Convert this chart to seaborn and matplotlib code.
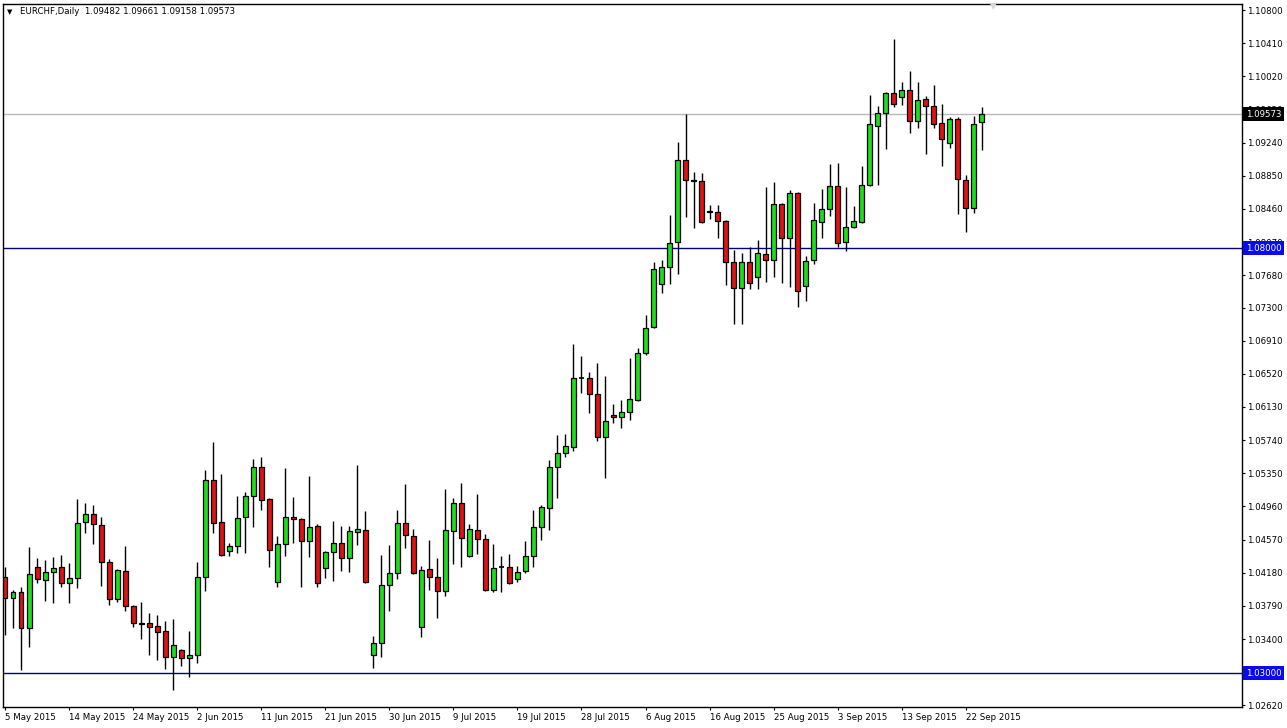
import matplotlib
matplotlib.use("Agg")
import matplotlib.pyplot as plt
import matplotlib.transforms as mtransforms
import numpy as np
import seaborn as sns

symbol = "EURCHF,Daily"

opens = [1.0413, 1.0388, 1.0395, 1.0353, 1.0425, 1.0409, 1.0419, 1.0425, 1.0406, 1.0412,
         1.0478, 1.0487, 1.0474, 1.0431, 1.0387, 1.0420, 1.0379, 1.0359, 1.0359, 1.0355,
         1.0349, 1.0319, 1.0327, 1.0318, 1.0321, 1.0413, 1.0527, 1.0478, 1.0444, 1.0449,
         1.0484, 1.0508, 1.0542, 1.0505, 1.0407, 1.0452, 1.0484, 1.0481, 1.0455, 1.0473,
         1.0424, 1.0442, 1.0453, 1.0435, 1.0466, 1.0468, 1.0321, 1.0335, 1.0404, 1.0418,
         1.0476, 1.0461, 1.0354, 1.0422, 1.0413, 1.0396, 1.0467, 1.0500, 1.0438, 1.0468,
         1.0458, 1.0398, 1.0425, 1.0425, 1.0411, 1.0420, 1.0438, 1.0472, 1.0494, 1.0542,
         1.0559, 1.0566, 1.0647, 1.0647, 1.0628, 1.0578, 1.0604, 1.0601, 1.0607, 1.0621,
         1.0676, 1.0707, 1.0758, 1.0778, 1.0807, 1.0904, 1.0880, 1.0879, 1.0844, 1.0842,
         1.0832, 1.0784, 1.0753, 1.0784, 1.0766, 1.0793, 1.0786, 1.0852, 1.0812, 1.0865,
         1.0755, 1.0786, 1.0831, 1.0846, 1.0873, 1.0807, 1.0825, 1.0831, 1.0874, 1.0944,
         1.0959, 1.0982, 1.0978, 1.0986, 1.0949, 1.0975, 1.0967, 1.0947, 1.0924, 1.0952,
         1.0880, 1.0847, 1.09482]
highs = [1.0425, 1.0398, 1.0401, 1.0448, 1.0435, 1.0433, 1.0436, 1.0439, 1.0429, 1.0505,
         1.0500, 1.0498, 1.0484, 1.0434, 1.0422, 1.0449, 1.0380, 1.0384, 1.0371, 1.0368,
         1.0361, 1.0364, 1.0328, 1.0349, 1.0431, 1.0539, 1.0572, 1.0534, 1.0453, 1.0508,
         1.0513, 1.0552, 1.0554, 1.0506, 1.0461, 1.0541, 1.0507, 1.0482, 1.0532, 1.0475,
         1.0444, 1.0479, 1.0473, 1.0473, 1.0545, 1.0491, 1.0344, 1.0439, 1.0451, 1.0492,
         1.0522, 1.0469, 1.0426, 1.0456, 1.0435, 1.0516, 1.0506, 1.0524, 1.0475, 1.0511,
         1.0464, 1.0452, 1.0438, 1.0440, 1.0426, 1.0455, 1.0492, 1.0498, 1.0551, 1.0580,
         1.0581, 1.0687, 1.0673, 1.0654, 1.0665, 1.0649, 1.0616, 1.0621, 1.0671, 1.0682,
         1.0721, 1.0784, 1.0786, 1.0839, 1.0925, 1.0958, 1.0889, 1.0888, 1.0851, 1.0851,
         1.0833, 1.0798, 1.0794, 1.0801, 1.0809, 1.0872, 1.0878, 1.0853, 1.0868, 1.0866,
         1.0791, 1.0853, 1.0869, 1.0899, 1.0900, 1.0872, 1.0849, 1.0896, 1.0980, 1.0967,
         1.0984, 1.1046, 1.0995, 1.1008, 1.0995, 1.0979, 1.0992, 1.0969, 1.0954, 1.0954,
         1.0886, 1.0955, 1.09661]
lows = [1.0345, 1.0353, 1.0304, 1.0331, 1.0406, 1.0385, 1.0382, 1.0401, 1.0382, 1.0400,
        1.0465, 1.0452, 1.0402, 1.0380, 1.0384, 1.0373, 1.0354, 1.0340, 1.0321, 1.0315,
        1.0305, 1.0280, 1.0308, 1.0295, 1.0312, 1.0396, 1.0465, 1.0438, 1.0438, 1.0441,
        1.0441, 1.0472, 1.0492, 1.0425, 1.0401, 1.0438, 1.0453, 1.0401, 1.0436, 1.0401,
        1.0412, 1.0408, 1.0420, 1.0419, 1.0451, 1.0406, 1.0306, 1.0319, 1.0373, 1.0411,
        1.0447, 1.0417, 1.0342, 1.0398, 1.0365, 1.0391, 1.0428, 1.0425, 1.0436, 1.0440,
        1.0396, 1.0395, 1.0395, 1.0405, 1.0407, 1.0418, 1.0425, 1.0456, 1.0468, 1.0506,
        1.0554, 1.0561, 1.0629, 1.0606, 1.0573, 1.0529, 1.0594, 1.0588, 1.0598, 1.0620,
        1.0674, 1.0706, 1.0747, 1.0758, 1.0769, 1.0836, 1.0824, 1.0829, 1.0834, 1.0812,
        1.0756, 1.0711, 1.0711, 1.0752, 1.0752, 1.0760, 1.0766, 1.0759, 1.0754, 1.0731,
        1.0738, 1.0781, 1.0812, 1.0838, 1.0801, 1.0796, 1.0824, 1.0829, 1.0873, 1.0874,
        1.0916, 1.0966, 1.0968, 1.0935, 1.0941, 1.0911, 1.0941, 1.0896, 1.0918, 1.0840,
        1.0819, 1.0841, 1.09158]
closes = [1.0388, 1.0395, 1.0353, 1.0416, 1.0411, 1.0419, 1.0424, 1.0406, 1.0412, 1.0476,
          1.0487, 1.0475, 1.0431, 1.0387, 1.0421, 1.0379, 1.0359, 1.0358, 1.0354, 1.0348,
          1.0319, 1.0333, 1.0318, 1.0321, 1.0413, 1.0527, 1.0476, 1.0439, 1.0449, 1.0482,
          1.0508, 1.0542, 1.0504, 1.0445, 1.0452, 1.0484, 1.0481, 1.0455, 1.0472, 1.0406,
          1.0442, 1.0453, 1.0435, 1.0467, 1.0469, 1.0407, 1.0335, 1.0404, 1.0418, 1.0476,
          1.0462, 1.0418, 1.0421, 1.0413, 1.0396, 1.0468, 1.0500, 1.0459, 1.0469, 1.0458,
          1.0398, 1.0424, 1.0425, 1.0406, 1.0419, 1.0438, 1.0472, 1.0495, 1.0542, 1.0559,
          1.0567, 1.0647, 1.0647, 1.0628, 1.0578, 1.0596, 1.0601, 1.0607, 1.0622, 1.0676,
          1.0706, 1.0775, 1.0778, 1.0806, 1.0904, 1.0880, 1.0879, 1.0831, 1.0842, 1.0832,
          1.0784, 1.0753, 1.0784, 1.0759, 1.0794, 1.0786, 1.0852, 1.0812, 1.0865, 1.0749,
          1.0785, 1.0833, 1.0846, 1.0873, 1.0806, 1.0825, 1.0832, 1.0874, 1.0946, 1.0959,
          1.0982, 1.0969, 1.0986, 1.0949, 1.0974, 1.0967, 1.0946, 1.0928, 1.0952, 1.0881,
          1.0847, 1.0946, 1.09573]

date_labels = ["5 May 2015", "14 May 2015", "24 May 2015", "2 Jun 2015", "11 Jun 2015",
               "21 Jun 2015", "30 Jun 2015", "9 Jul 2015", "19 Jul 2015", "28 Jul 2015",
               "6 Aug 2015", "16 Aug 2015", "25 Aug 2015", "3 Sep 2015", "13 Sep 2015",
               "22 Sep 2015"]
bars_per_label = 8

price_ticks = [1.10800, 1.10410, 1.10020, 1.09630, 1.09240, 1.08850, 1.08460, 1.08070,
               1.07680, 1.07300, 1.06910, 1.06520, 1.06130, 1.05740, 1.05350, 1.04960,
               1.04570, 1.04180, 1.03790, 1.03400, 1.03000, 1.02620]
level_lines = [1.08000, 1.03000]

sns.set_theme(style="white")
plt.rcParams['font.family'] = ['DejaVu Sans']

up_color = "#1fdc1f"
down_color = "#dc1414"
line_blue = "#00007f"
tag_blue = "#0a0af0"
fs = 6.2

x = np.arange(len(opens))
o = np.array(opens)
h = np.array(highs)
l = np.array(lows)
c = np.array(closes)

fig = plt.figure(figsize=(12.87, 7.28), dpi=100)
ax = fig.add_axes([3 / 1287, 21 / 728, 1239 / 1287, 703 / 728])
ax.set_facecolor("white")

# level lines and current price
for lv in level_lines:
    ax.axhline(lv, color=line_blue, lw=1.0, zorder=1)
ax.axhline(closes[-1], color="#b8b8b8", lw=1.0, zorder=1)

# wicks
ax.vlines(x, l, h, color="black", lw=1.0, zorder=2)

# bodies
body_colors = np.where(c > o, up_color, down_color)
heights = np.abs(c - o)
bottoms = np.minimum(o, c)
flat = heights < 0.00005
ax.bar(x[~flat], heights[~flat], bottom=bottoms[~flat], width=0.62,
       color=body_colors[~flat], edgecolor="black", linewidth=0.9, zorder=3)
ax.hlines(o[flat], x[flat] - 0.35, x[flat] + 0.35, color="black", lw=1.2, zorder=3)

ax.set_xlim(-0.25, 154.5)
ax.set_ylim(1.02600, 1.10871)

# axes styling
for s in ax.spines.values():
    s.set_color("black")
    s.set_linewidth(1.0)

ax.yaxis.tick_right()
ax.set_yticks(price_ticks)
ax.set_yticklabels([f"{p:.5f}" for p in price_ticks])
ax.tick_params(axis="y", direction="out", length=2.2, width=0.8, pad=1.5,
               labelsize=fs, colors="black", right=True, left=False)

tick_pos = [i * bars_per_label for i in range(len(date_labels))]
ax.set_xticks(tick_pos)
ax.set_xticklabels(date_labels)
ax.tick_params(axis="x", direction="out", length=2.5, width=0.8, pad=2,
               labelsize=fs, colors="black", bottom=True)
for lbl in ax.get_xticklabels():
    lbl.set_horizontalalignment("left")
ax.grid(False)

# price tags on the right scale
trans = mtransforms.blended_transform_factory(ax.transAxes, ax.transData)
ax.text(1.003, closes[-1], f"{closes[-1]:.5f}", transform=trans, ha="left", va="center",
        fontsize=fs, color="white", clip_on=False, zorder=10,
        bbox=dict(boxstyle="square,pad=0.3", fc="black", ec="none"))
for lv in level_lines:
    ax.text(1.003, lv, f"{lv:.5f}", transform=trans, ha="left", va="center",
            fontsize=fs, color="white", clip_on=False, zorder=10,
            bbox=dict(boxstyle="square,pad=0.3", fc=tag_blue, ec="none"))

# header
fig.text(7 / 1287, 1 - 12 / 728, "▼", fontsize=5, color="black", va="center")
fig.text(20 / 1287, 1 - 12 / 728,
         f"{symbol}  {opens[-1]:.5f} {highs[-1]:.5f} {lows[-1]:.5f} {closes[-1]:.5f}",
         fontsize=fs, color="black", va="center")
fig.text(993 / 1287, 1 - 7 / 728, "▼", fontsize=6, color="#d8d8d8", va="center", ha="center")

fig.savefig("out.png", dpi=100)
